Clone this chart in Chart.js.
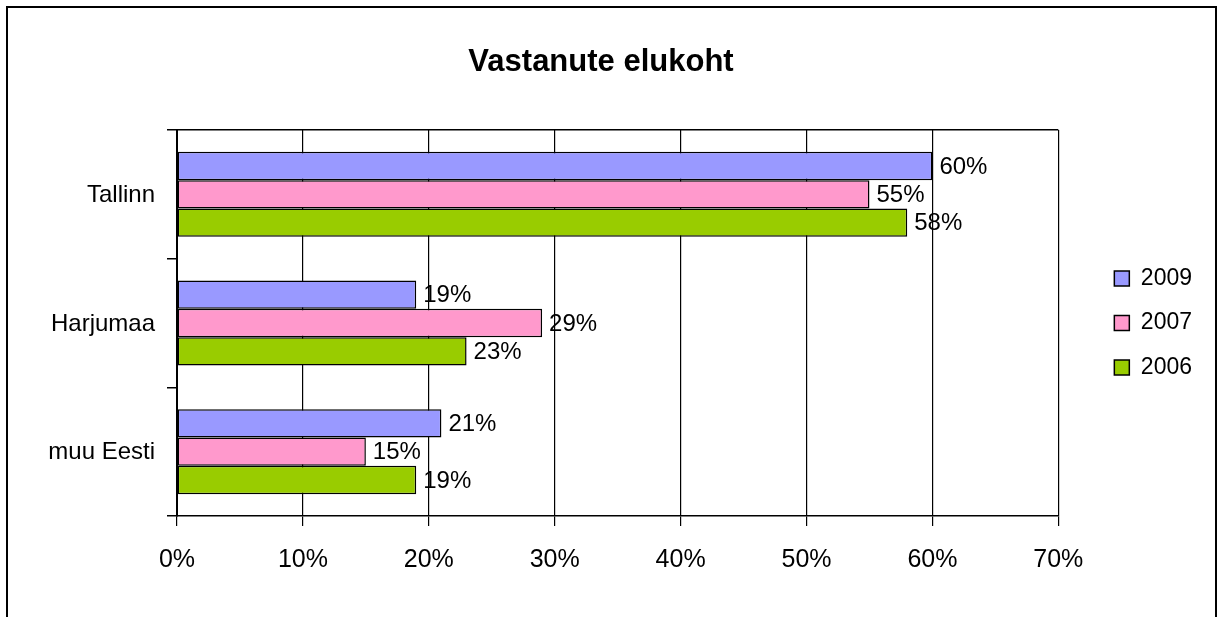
<!DOCTYPE html>
<html>
<head>
<meta charset="utf-8">
<script src="https://cdn.jsdelivr.net/npm/chart.js@4/dist/chart.umd.min.js"></script>
<style>
    body { margin: 0; background: #fff; }
    #frame {
        position: absolute;
        left: 6px;
        top: 6px;
        width: 1207px;
        height: 700px;
        border: 2px solid #000;
    }
    #wrap {
        position: absolute;
        left: 0;
        top: 0;
        width: 1219px;
        height: 617px;
    }
</style>
</head>
<body>
<div id="frame"></div>
<div id="wrap"><canvas id="chart"></canvas></div>
<script>
const categories = ['Tallinn', 'Harjumaa', 'muu Eesti'];
const seriesNames = ['2009', '2007', '2006'];
const values2009 = [60, 19, 21];
const values2007 = [55, 29, 15];
const values2006 = [58, 23, 19];
const seriesColors = ['#9999FF', '#FF99CC', '#99CC00'];
const axisMax = 70;
const axisStep = 10;

const fontFamily = "'Liberation Sans', Arial, sans-serif";
Chart.defaults.font.family = fontFamily;
Chart.defaults.color = '#000';

// draws the value next to the end of every bar
const valueLabels = {
    id: 'valueLabels',
    afterDatasetsDraw(chart) {
        const ctx = chart.ctx;
        ctx.save();
        ctx.font = '24px ' + fontFamily;
        ctx.fillStyle = '#000';
        ctx.textAlign = 'left';
        ctx.textBaseline = 'middle';
        chart.data.datasets.forEach((ds, i) => {
            chart.getDatasetMeta(i).data.forEach((bar, j) => {
                ctx.fillText(ds.data[j] + '%', bar.x + 7, bar.y + 1);
            });
        });
        ctx.restore();
    }
};

const allValues = [values2009, values2007, values2006];

new Chart(document.getElementById('chart'), {
    type: 'bar',
    data: {
        labels: categories,
        datasets: seriesNames.map((name, i) => ({
            label: name,
            data: allValues[i],
            backgroundColor: seriesColors[i],
            borderColor: '#000',
            borderWidth: 1.5,
            borderSkipped: false,
            xAxisID: 'x',
            yAxisID: 'y',
            categoryPercentage: 0.66,
            barPercentage: 1.0
        }))
    },
    options: {
        indexAxis: 'y',
        responsive: true,
        maintainAspectRatio: false,
        animation: false,
        layout: {
            padding: { left: 0, right: 17, top: 0, bottom: 0 }
        },
        scales: {
            x: {
                min: 0,
                max: axisMax,
                afterFit: s => { s.height = 101; },
                ticks: {
                    stepSize: axisStep,
                    padding: 19,
                    font: { size: 25 },
                    callback: v => v + '%'
                },
                grid: {
                    color: '#000',
                    lineWidth: 1.2,
                    tickLength: 10
                },
                border: { color: '#000', width: 1.5 }
            },
            y: {
                afterFit: s => { s.width = 177; },
                ticks: {
                    padding: 12,
                    labelOffset: 1,
                    font: { size: 24 }
                },
                grid: {
                    color: c => (c.index === 0 ? '#000' : 'rgba(0,0,0,0)'),
                    tickColor: '#000',
                    lineWidth: 1.5,
                    tickLength: 10
                },
                border: { color: '#000', width: 2 }
            },
            y2: {
                type: 'linear',
                position: 'right',
                afterFit: s => { s.width = 34.5; },
                ticks: { display: false },
                grid: { display: false },
                border: { display: false }
            }
        },
        plugins: {
            title: {
                display: true,
                text: 'Vastanute elukoht',
                color: '#000',
                font: { size: 31, weight: 'bold' },
                padding: { top: 43.4, bottom: 49.4 }
            },
            legend: {
                position: 'right',
                fullSize: false,
                labels: {
                    boxWidth: 15,
                    boxHeight: 15,
                    padding: 21.5,
                    color: '#000',
                    font: { size: 23 }
                }
            },
            tooltip: { enabled: false }
        }
    },
    plugins: [valueLabels]
});
</script>
</body>
</html>
